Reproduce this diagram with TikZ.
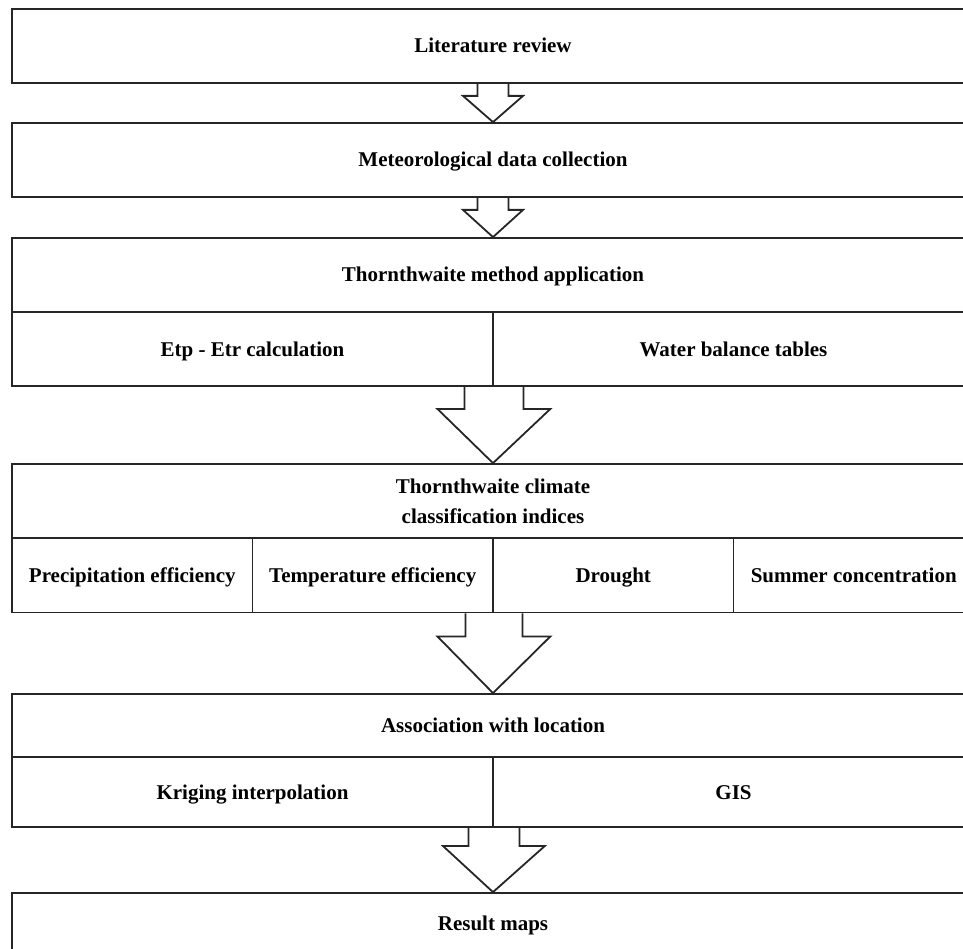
\documentclass[tikz,border=0pt]{standalone}
\usepackage{fontspec}
\setmainfont{Liberation Serif}
\usetikzlibrary{calc}

\tikzset{
	stage/.style={draw=black!85, line width=1.8pt, minimum width=962pt, minimum height=74pt, inner sep=0pt, align=center, text height=14pt, text depth=0pt, font=\fontsize{21}{30}\selectfont\bfseries},
	half/.style={stage, minimum width=481pt},
	quarter/.style={stage, minimum width=240.5pt},
	blockarrow/.style={draw=black!85, line width=1.8pt, line join=miter}
}

% start, tip, shaft half width, head half width, shaft length
\newcommand{\flowarrow}[5]{
	\draw[blockarrow] ($(#1)+(-#3,0)$) -- ($(#1)+(-#3,#5)$) -- ($(#1)+(-#4,#5)$)
		-- (#2) -- ($(#1)+(#4,#5)$) -- ($(#1)+(#3,#5)$) -- ($(#1)+(#3,0)$);
}

\begin{document}
\begin{tikzpicture}[x=1pt,y=-1pt]
	\useasboundingbox (0,0) rectangle (963,949);

	\node[stage]	(lit)		at (493,46)		{Literature review};
	\node[stage]	(met)		at (493,160)	{Meteorological data collection};
	\node[stage]	(thorn)		at (493,275)	{Thornthwaite method application};
	\node[half]		(etp)		at (252.5,349)	{Etp - Etr calculation};
	\node[half]		(wat)		at (733.5,349)	{Water balance tables};
	\node[stage, text height=44pt]	(indices)	at (493,501)	{Thornthwaite climate\\classification indices};
	\node[quarter]	(prec)		at (132.25,575.5)	{Precipitation efficiency};
	\node[quarter]	(temp)		at (372.75,575.5)	{Temperature efficiency};
	\node[quarter]	(drought)	at (613.25,575.5)	{Drought};
	\node[quarter]	(summer)	at (853.75,575.5)	{Summer concentration};
	\node[stage, minimum height=63pt]	(assoc)	at (493,725.5)	{Association with location};
	\node[half, minimum height=70pt]		(krig)	at (252.5,792)	{Kriging interpolation};
	\node[half, minimum height=70pt]		(gis)	at (733.5,792)	{GIS};
	\node[stage, minimum height=60pt]	(maps)	at (493,923)	{Result maps};

	\flowarrow{lit.south}{met.north}{15.5}{30}{12}
	\flowarrow{met.south}{thorn.north}{15.5}{30}{12}
	\flowarrow{etp.south east}{indices.north}{29.5}{56.5}{22}
	\flowarrow{temp.south east}{assoc.north}{28.5}{56.5}{23}
	\flowarrow{krig.south east}{maps.north}{25.5}{51}{18}
\end{tikzpicture}
\end{document}
